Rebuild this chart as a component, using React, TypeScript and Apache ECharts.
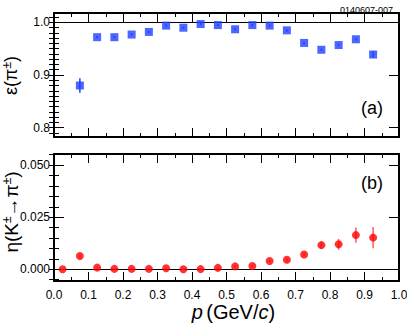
import React, { useEffect, useRef } from "react";
import * as echarts from "echarts";

// Panel (a): efficiency epsilon(pi±) vs p
const effP = [0.075, 0.125, 0.175, 0.225, 0.275, 0.325, 0.375, 0.425, 0.475, 0.525, 0.575, 0.625, 0.675, 0.725, 0.775, 0.825, 0.875, 0.925];
const effVals = [0.880, 0.972, 0.972, 0.977, 0.982, 0.994, 0.990, 0.997, 0.995, 0.987, 0.995, 0.994, 0.985, 0.961, 0.948, 0.957, 0.968, 0.939];
const effErr = [0.014, 0.002, 0.002, 0.002, 0.002, 0.002, 0.002, 0.002, 0.002, 0.002, 0.002, 0.002, 0.002, 0.002, 0.002, 0.002, 0.002, 0.006];

// Panel (b): misidentification eta(K±->pi±) vs p
const misP = [0.025, 0.075, 0.125, 0.175, 0.225, 0.275, 0.325, 0.375, 0.425, 0.475, 0.525, 0.575, 0.625, 0.675, 0.725, 0.775, 0.825, 0.875, 0.925];
const misVals = [0.0000, 0.0064, 0.0008, 0.0002, 0.0002, 0.0002, 0.0005, 0.0000, 0.0001, 0.0007, 0.0014, 0.0016, 0.0040, 0.0046, 0.0071, 0.0116, 0.0120, 0.0164, 0.0152];
const misErr = [0.0003, 0.0008, 0.0003, 0.0003, 0.0003, 0.0003, 0.0003, 0.0003, 0.0003, 0.0004, 0.0005, 0.0005, 0.0006, 0.0007, 0.0010, 0.0016, 0.0026, 0.0037, 0.0051];

// Tick labels
const xTickLabels = ["0.0", "0.1", "0.2", "0.3", "0.4", "0.5", "0.6", "0.7", "0.8", "0.9", "1.0"];
const effMajorTicks = [0.8, 0.9, 1.0];
const effTickLabels = ["0.8", "0.9", "1.0"];
const misMajorTicks = [0, 0.025, 0.05];
const misTickLabels = ["0.000", "0.025", "0.050"];

const effRange = [0.782, 1.018];
const misRange = [-0.0056, 0.0553];

function stepTicks(from: number, to: number, step: number): number[] {
  const out: number[] = [];
  const n = Math.round((to - from) / step);
  for (let i = 0; i <= n; i++) out.push(Math.round((from + i * step) * 1e6) / 1e6);
  return out;
}
const effMinorTicks = stepTicks(0.79, 1.01, 0.01);
const misMinorTicks = stepTicks(-0.005, 0.055, 0.005);

const FONT = "'Liberation Sans', Arial, Helvetica, sans-serif";
const BLUE = "#2040ff";
const RED = "#ff0000";
const RED_ERR = "#ff5a5a";

export default function App() {
  const ref = useRef<HTMLDivElement>(null);
  useEffect(() => {
    if (!ref.current) return;
    const chart = echarts.init(ref.current, null, { renderer: "svg" });

    const xBase = (gridIndex: number, position: "top" | "bottom", showLabels: boolean) => ({
      type: "value",
      gridIndex,
      position,
      min: 0,
      max: 1,
      interval: 0.1,
      axisLine: { show: true, onZero: false, lineStyle: { color: "#000", width: 2 } },
      axisTick: { show: true, inside: true, length: 9, lineStyle: { color: "#000", width: 1 } },
      minorTick: { show: true, splitNumber: 2, length: 4, lineStyle: { color: "#000", width: 1 } },
      splitLine: { show: false },
      minorSplitLine: { show: false },
      axisLabel: {
        show: showLabels,
        margin: 8,
        fontSize: 12,
        fontFamily: FONT,
        color: "#000",
        formatter: (v: number) => xTickLabels[Math.round(v * 10)] ?? "",
      },
    });

    const yMajor = (
      gridIndex: number,
      position: "left" | "right",
      range: number[],
      ticks: number[],
      labels: string[],
      showLabels: boolean
    ) => ({
      type: "value",
      gridIndex,
      position,
      min: range[0],
      max: range[1],
      axisLine: { show: true, onZero: false, lineStyle: { color: "#000", width: 2 } },
      axisTick: { show: true, inside: true, length: 10, customValues: ticks, lineStyle: { color: "#000", width: 1 } },
      splitLine: { show: false },
      axisLabel: {
        show: showLabels,
        customValues: ticks,
        margin: 4,
        fontSize: 12,
        fontFamily: FONT,
        color: "#000",
        formatter: (v: number) => {
          const i = ticks.findIndex((t) => Math.abs(t - v) < 1e-9);
          return i >= 0 ? labels[i] : "";
        },
      },
    });

    const yMinor = (gridIndex: number, position: "left" | "right", range: number[], ticks: number[]) => ({
      type: "value",
      gridIndex,
      position,
      min: range[0],
      max: range[1],
      axisLine: { show: false },
      axisTick: { show: true, inside: true, length: 5, customValues: ticks, lineStyle: { color: "#000", width: 1 } },
      splitLine: { show: false },
      axisLabel: { show: false },
    });

    const errBar = (color: string, width: number) => (params: any, api: any) => {
      const x = api.value(0);
      const y = api.value(1);
      const e = api.value(2);
      const p1 = api.coord([x, y - e]);
      const p2 = api.coord([x, y + e]);
      return {
        type: "line",
        shape: { x1: p1[0], y1: p1[1], x2: p2[0], y2: p2[1] },
        style: { stroke: color, lineWidth: width },
      };
    };

    const effNameRich = {
      g: { fontSize: 18, lineHeight: 20, fontFamily: FONT, fill: "#000" },
      s: { fontSize: 12, lineHeight: 12, verticalAlign: "top", fontFamily: FONT, fill: "#000" },
    };
    const misNameRich = {
      g: { fontSize: 19, lineHeight: 21, fontFamily: FONT, fill: "#000" },
      a: { fontSize: 19, lineHeight: 21, fontFamily: FONT, fill: "#000" },
      s: { fontSize: 12, lineHeight: 12, verticalAlign: "top", fontFamily: FONT, fill: "#000" },
    };

    const option: any = {
      animation: false,
      backgroundColor: "#fff",
      textStyle: { fontFamily: FONT },
      title: {
        text: "0140607-007",
        right: 9,
        top: 0,
        textStyle: { fontSize: 9, fontWeight: "normal", color: "#000", fontFamily: FONT },
      },
      grid: [
        { left: 54, right: 8, top: 13, height: 124, containLabel: false, outerBoundsMode: "none" },
        { left: 54, right: 8, top: 154, height: 127, containLabel: false, outerBoundsMode: "none" },
      ],
      xAxis: [
        xBase(0, "bottom", false),
        xBase(0, "top", false),
        {
          ...xBase(1, "bottom", true),
          name: "{i|p} {n|(GeV/}{i|c}{n|)}",
          nameLocation: "middle",
          nameGap: 11,
          nameTextStyle: {
            fontFamily: FONT,
            color: "#000",
            verticalAlign: "top",
            padding: [0, 0, 0, 14],
            rich: {
              i: { fontSize: 20, fontStyle: "italic", fontFamily: FONT, color: "#000" },
              n: { fontSize: 20, fontFamily: FONT, color: "#000" },
            },
          },
        },
        xBase(1, "top", false),
      ],
      yAxis: [
        yMajor(0, "left", effRange, effMajorTicks, effTickLabels, true),
        yMinor(0, "left", effRange, effMinorTicks),
        yMajor(0, "right", effRange, effMajorTicks, effTickLabels, false),
        yMinor(0, "right", effRange, effMinorTicks),
        yMajor(1, "left", misRange, misMajorTicks, misTickLabels, true),
        yMinor(1, "left", misRange, misMinorTicks),
        yMajor(1, "right", misRange, misMajorTicks, misTickLabels, false),
        yMinor(1, "right", misRange, misMinorTicks),
      ],
      graphic: [
        {
          type: "text",
          x: 11,
          y: 75.5,
          rotation: Math.PI / 2,
          style: {
            text: "{g|ε(π}{s|±}{g|)}",
            rich: effNameRich,
            align: "center",
            verticalAlign: "middle",
          },
        },
        {
          type: "text",
          x: 11,
          y: 212,
          rotation: Math.PI / 2,
          style: {
            text: "{g|η(K}{s|±}{a|→}{g|π}{s|±}{g|)}",
            rich: misNameRich,
            align: "center",
            verticalAlign: "middle",
          },
        },
        {
          type: "text",
          right: 24,
          top: 99,
          style: { text: "(a)", fontSize: 18, fontFamily: FONT, fill: "#000" },
        },
        {
          type: "text",
          right: 24,
          top: 174,
          style: { text: "(b)", fontSize: 18, fontFamily: FONT, fill: "#000" },
        },
      ],
      series: [
        {
          type: "custom",
          xAxisIndex: 0,
          yAxisIndex: 0,
          renderItem: errBar(BLUE, 1.5),
          data: effP.map((p, i) => [p, effVals[i], effErr[i]]),
          encode: { x: 0, y: 1 },
          z: 3,
          silent: true,
        },
        {
          type: "scatter",
          xAxisIndex: 0,
          yAxisIndex: 0,
          symbol: "rect",
          symbolSize: 8,
          itemStyle: { color: BLUE },
          data: effP.map((p, i) => [p, effVals[i]]),
          z: 4,
          silent: true,
          markLine: {
            silent: true,
            symbol: ["none", "none"],
            label: { show: false },
            lineStyle: { color: "#000", width: 1, type: "solid" },
            data: [{ yAxis: 1.0 }],
            z: 1,
          },
        },
        {
          type: "custom",
          xAxisIndex: 2,
          yAxisIndex: 4,
          renderItem: errBar(RED_ERR, 1.5),
          data: misP.map((p, i) => [p, misVals[i], misErr[i]]),
          encode: { x: 0, y: 1 },
          z: 3,
          silent: true,
        },
        {
          type: "scatter",
          xAxisIndex: 2,
          yAxisIndex: 4,
          symbol: "circle",
          symbolSize: 8,
          itemStyle: { color: RED },
          data: misP.map((p, i) => [p, misVals[i]]),
          z: 4,
          silent: true,
          markLine: {
            silent: true,
            symbol: ["none", "none"],
            label: { show: false },
            lineStyle: { color: "#000", width: 1, type: "solid" },
            data: [{ yAxis: 0 }],
            z: 1,
          },
        },
      ],
    };

    chart.setOption(option);
    return () => chart.dispose();
  }, []);

  return <div ref={ref} style={{ width: 407, height: 324, position: "absolute", left: 0, top: 0 }} />;
}
